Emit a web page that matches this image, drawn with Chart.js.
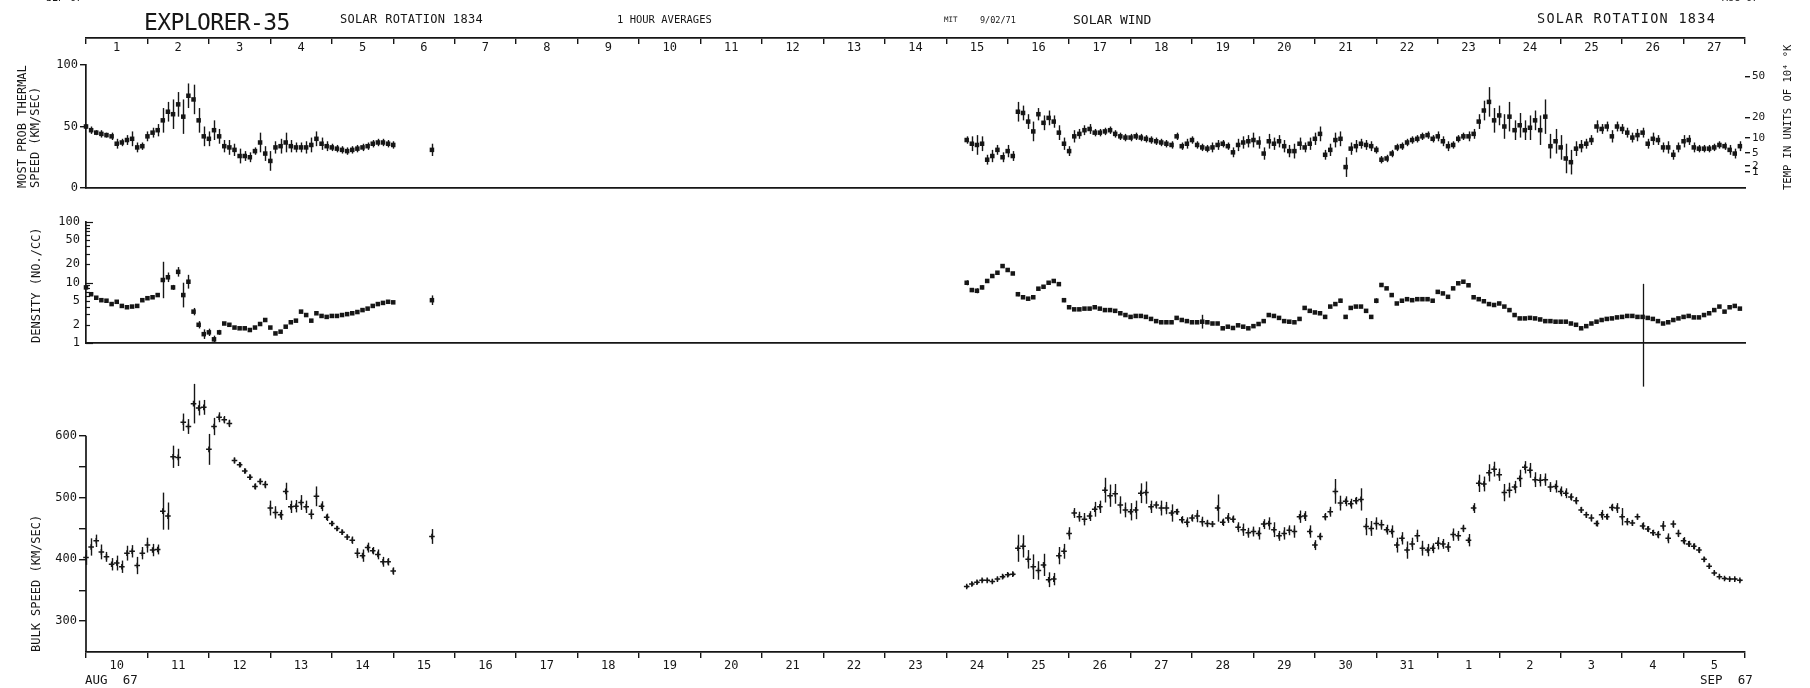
<!DOCTYPE html>
<html>
<head>
<meta charset="utf-8">
<script src="https://cdn.jsdelivr.net/npm/chart.js@4/dist/chart.umd.min.js"></script>
<style>
  html, body { margin: 0; padding: 0; background: #fff; }
  #page { position: relative; width: 1810px; height: 688px; overflow: hidden; background: #fff;
          font-family: 'DejaVu Sans Mono', monospace; color: #161616; }
  #page canvas { position: absolute; left: 0; }
  .t { position: absolute; white-space: pre; line-height: 1; }
</style>
</head>
<body>
<div id="page">
  <canvas id="cRot"   width="1810" height="62"  style="top:0px"></canvas>
  <canvas id="cTherm" width="1810" height="160" style="top:40px"></canvas>
  <canvas id="cDens"  width="1810" height="200" style="top:200px"></canvas>
  <canvas id="cBulk"  width="1810" height="328" style="top:360px"></canvas>

  <div class="t" style="left:46px;top:-7px;font-size:10px">SEP 67</div>
  <div class="t" style="left:1722px;top:-7px;font-size:10px">AUG 67</div>
  <div class="t" style="left:144px;top:11px;font-size:23px;letter-spacing:-0.6px">EXPLORER-35</div>
  <div class="t" style="left:340px;top:12.6px;font-size:12px;letter-spacing:0.3px">SOLAR ROTATION 1834</div>
  <div class="t" style="left:617px;top:13.8px;font-size:10.5px">1 HOUR AVERAGES</div>
  <div class="t" style="left:944px;top:16px;font-size:7.5px">MIT</div>
  <div class="t" style="left:980px;top:16px;font-size:8.5px">9/02/71</div>
  <div class="t" style="left:1073px;top:12.5px;font-size:13px">SOLAR WIND</div>
  <div class="t" style="left:1537px;top:12.4px;font-size:13.5px;letter-spacing:1.3px">SOLAR ROTATION 1834</div>
  <div class="t" style="left:1782px;top:190px;font-size:10.5px;transform:rotate(-90deg);transform-origin:0 0">TEMP IN UNITS OF 10⁴ °K</div>
  <div class="t" style="left:85px;top:674px;font-size:12.5px">AUG  67</div>
  <div class="t" style="left:1700px;top:674px;font-size:12.5px">SEP  67</div>
</div>

<script>
// ---------- axis labels ----------
const rotationDays = ['1','2','3','4','5','6','7','8','9','10','11','12','13','14','15','16','17','18','19','20','21','22','23','24','25','26','27'];
const monthDays = ['10','11','12','13','14','15','16','17','18','19','20','21','22','23','24','25','26','27','28','29','30','31','1','2','3','4','5'];
const thermTicks = [0, 50, 100];
const tempTickLabels = [50, 20, 10, 5, 2, 1];          // units of 10^4 K
const densTickLabels = [100, 50, 20, 10, 5, 2, 1];
const densTickMarks = [1,2,3,4,5,6,7,8,9,10,20,30,40,50,60,70,80,90,100];
const bulkTicks = [300, 350, 400, 450, 500, 550, 600];
const bulkTickLabels = [300, 400, 500, 600];

// ---------- plasma data (days after 10 Aug 1967 00 UT, one value every 2 h) ----------
const stepDays = 1 / 12;
const startA = 0;          // first stretch: 10 Aug - 14 Aug
const startC = 14 + 4 / 12; // second stretch: 24 Aug - 5 Sep

const thermA = [50,47,45,44,43,42,36,37,39,40, 33,34,42,45,47,55,62,60,68,58,
  75,72,55,42,40,47,42,34,33,31, 26,26,25,30,37,28,22,33,34,37,
  34,33,33,33,35,40,36,34,33,32, 31,30,31,32,33,34,36,37,37,36,35];
const thermErrA = [2,3,2,3,2,3,4,3,4,6,4,3,4,4,5, 10,8,12,10,14,10,12,10,8,6,8,6,
  5,6,5,6,4,4,3,8,6,8,5,6,8,5,4,4,5,6, 6,5,4,3,3,3,3,3,3,3,3,3,3,3,3,3];
const densA = [8.3,6.4,5.6,5.1,5.0,4.4,4.8,4.1,3.9,4.0, 4.1,5.1,5.5,5.7,6.2,11,12.2,8.3,15,6.2,
  10.3,3.3,2.0,1.4,1.5,1.15,1.5,2.1,2.0,1.8, 1.75,1.75,1.64,1.8,2.06,2.4,1.8,1.44,1.54,1.86,
  2.2,2.34,3.3,2.9,2.34,3.1,2.8,2.7,2.8,2.8, 2.9,3.0,3.1,3.25,3.5,3.7,4.1,4.4,4.6,4.8,4.7];
const densErrA = [0.06,0.05,0.05,0.05,0.05,0.05,0.06,0.05,0.05,0.05,0.05,0.05,0.05,0.05,0.06,
  1.0,0.2,0.1,0.2,0.6,0.3,0.15,0.15,0.2,0.15,0.15,0.1,
  0.05,0.05,0.05,0.05,0.05,0.05,0.05,0.05,0.05,0.05,
  0.06,0.05,0.05,0.05,0.05,0.05,0.05,0.05,0.05,0.05,
  0.05,0.05,0.05,0.05,0.05,0.05,0.05,0.05,0.05,0.05, 0.05,0.05,0.05,0.05];
const bulkA = [403,420,430,412,404,392,394,388,410,413, 390,410,423,415,416,478,470,566,565,622,
  615,652,645,646,578,615,630,626,620,560, 553,543,533,518,526,521,483,476,472,510,
  485,486,492,485,473,502,486,468,458,450, 444,436,431,410,406,419,414,408,396,396,381];
const bulkErrA = [12,14,10,12,8,10,12,10,12,10,14,10,12,10,8,
  30,22,18,14,14,12,32,12,12,25,14,8,6,6,
  5,4,4,4,5,5,6,
  12,10,8,14,10,10,12,10,8,16,8,6,
  4,4,4,4,6,8,10,8,6,8,8,6,6];

// lone measurement on 15 Aug
const isoDay = [5.63];
const isoTherm = [31];
const isoThermErr = [5];
const isoDens = [5.1];
const isoDensErr = [0.2];
const isoBulk = [437];
const isoBulkErr = [12];

const thermC = [39,36,35,36,23,26,31,25,30,26, 62,61,54,46,60,53,57,54,45,36,
  30,42,44,47,48,45,45,46,47,44, 42,41,41,42,41,40,39,38,37,36,
  35,42,34,36,39,35,33,32,33,35, 36,34,29,35,37,38,39,37,28,38,
  36,38,34,30,30,36,33,36,40,44, 27,31,39,40,17,32,34,36,35,34,
  31,23,24,28,33,34,37,39,40,42, 43,40,42,38,34,35,40,42,42,44,
  54,63,70,55,59,50,58,47,51,47, 49,55,47,58,34,38,33,24,21,32,
  34,36,39,50,48,50,42,50,48,45, 41,43,45,36,40,39,33,33,27,33,
  38,39,33,32,32,32,33,35,34,31,28,34];
const thermErrC = [3,6,8,6,4,5,4,4,5,4,
  8,6,6,8,5,6,6,5,6,5,4,
  5,4,4,4,3,3,3,3,3,3,3,3,3,3,3,3,3,3,3,3,
  3,3,4,3,3,3,3,4,4,3,3,4,5,5,5,6,5,5,6,5,
  5,5,5,6,5,4,5,5,6,4,5,6,6,8,5,5,
  4,4,4,3,3,3,3,3,3,3,3,3,3,3,3,4,4,4,3,3,3,4,4,
  6,8,12,10,8,10,12,8,10,8,10,8,12,14,10,10,10,12,10,
  6,5,4,4,5,4,4,5,4,4,4,4,5,4,4,5,4,4,5,4,4,5,4,4,3,3,3,3,3,3,4,4,4];
const densC = [9.9,7.5,7.3,8.3,10.6,12.8,14.5,18.7,16.1,14.1,
  6.4,5.7,5.4,5.7,7.9,8.5,9.9,10.6,9.4,5.1,
  3.9,3.6,3.6,3.7,3.7,3.9,3.7,3.5,3.5,3.4,
  3.1,2.9,2.7,2.8,2.8,2.7,2.5,2.3,2.2,2.2,
  2.2,2.6,2.4,2.3,2.2,2.2,2.25,2.2,2.1,2.1,
  1.75,1.86,1.77,1.96,1.86,1.75,1.9,2.06,2.3,2.9,
  2.8,2.6,2.3,2.25,2.2,2.5,3.8,3.4,3.2,3.1,
  2.7,4.0,4.4,5.0,2.7,3.8,4.0,4.0,3.4,2.7,
  5.0,9.1,8.0,6.2,4.5,5.0,5.3,5.1,5.3,5.3,
  5.3,5.0,7.0,6.6,5.8,8.0,9.7,10.3,9.0,5.7,
  5.3,4.9,4.4,4.25,4.5,4.0,3.5,2.9,2.55,2.55,
  2.6,2.55,2.45,2.3,2.3,2.25,2.25,2.25,2.1,2.0,
  1.75,1.9,2.1,2.25,2.4,2.5,2.55,2.65,2.7,2.8,
  2.8,2.7,2.7,2.6,2.5,2.3,2.1,2.2,2.4,2.55,
  2.7,2.8,2.65,2.65,2.9,3.1,3.5,4.0,3.3,3.9,4.1,3.7];
const densErrC = [0.1,0.08,0.1,0.08,0.06,0.06,0.06,0.08,0.06,0.06,
  0.08,0.06,0.05,0.05,0.06,0.06,0.05,0.05,0.05,0.08,
  0.05,0.05,0.05,0.05,0.05,0.05,0.05,0.05,0.05,0.05,
  0.05,0.05,0.05,0.05,0.05,0.05,0.05,0.05,0.05,0.05,
  0.05,0.05,0.05,0.05,0.05,0.05,0.3,0.05,0.05,0.05,
  0.05,0.05,0.05,0.05,0.05,0.05,0.05,0.05,0.05,0.05,
  0.05,0.05,0.05,0.05,0.05,0.05,0.06,0.06,0.05,0.05,
  0.08,0.06,0.06,0.08,0.08,0.06,0.05,0.05,0.05,0.05,
  0.1,0.06,0.05,0.05,0.05,0.05,0.05,0.05,0.05,0.05,
  0.05,0.05,0.05,0.05,0.05,0.05,0.05,0.05,0.05,0.05,
  0.06,0.05,0.05,0.05,0.05,0.05,0.05,0.05,0.05,0.05,
  0.05,0.05,0.05,0.05,0.05,0.05,0.05,0.05,0.05,0.05,
  0.06,0.05,0.05,0.05,0.05,0.05,0.05,0.05,0.05,0.05,
  0.05,0.05,0.05,0.05,0.05,0.05,0.05,0.05,0.05,0.05,
  0.05,0.05,0.05,0.05,0.05,0.05,0.05,0.05,0.05,0.05,0.05,0.05];
const bulkC = [356,360,363,366,366,364,368,372,375,376,
  418,421,400,388,382,391,367,368,406,413,
  442,475,469,465,470,481,485,512,503,506,
  488,480,477,480,507,508,485,488,483,483,
  475,477,464,460,467,470,461,458,457,483,
  460,467,465,452,448,443,445,442,457,458,
  448,438,442,447,445,469,470,445,423,437,
  469,477,510,491,494,490,495,497,453,450,
  458,456,448,445,423,434,415,425,438,418,
  415,418,426,425,420,440,438,450,431,483,
  523,522,540,546,537,508,512,517,531,549,
  544,529,528,529,517,518,510,507,501,495,
  480,472,467,458,472,469,484,483,469,461,
  459,469,454,449,443,440,454,434,457,442,
  430,425,421,415,400,389,378,372,369,368,368,366];
const bulkErrC = [2,3,3,3,3,3,3,3,3,3,
  22,18,15,20,15,18,12,10,14,12,10,
  8,8,10,8,12,10,20,18,16,14,
  12,14,15,16,18,10,6,12,10,14,
  5,6,8,6,10,8,6,5,22,6,
  8,6,8,10,8,8,10,8,10,12,
  8,10,8,10,10,8,10,8,6,6,
  8,20,12,8,8,6,
  18,14,12,10,8,8,10,12,10,14,10,10,12,10,8,10,8,8,10,8,6,10,8,
  14,12,14,12,10,14,12,10,14,10,12,12,10,10,8,10,8,8,6,6,5,
  5,6,5,8,5,6,8,14,6,5,5,6,5,5,6,8,8,6,6,6,
  5,5,5,4,4,3,3,2,2,2,2];

// density sample on 4 Sep with a very wide uncertainty bar
const spikeDay = [startC + 132 * stepDays];
const spikeLo = [0.19];
const spikeHi = [9.5];

// ---------- helpers ----------
const ink = '#161616';
Chart.defaults.font.family = "'DejaVu Sans Mono', monospace";
Chart.defaults.font.size = 12;
Chart.defaults.color = ink;

function series(start, vals) { return vals.map((v, i) => ({ x: start + i * stepDays, y: v })); }
function joined(a, iso, c) {
  return [...series(startA, a), ...isoDay.map((d, i) => ({ x: d, y: iso[i] })), ...series(startC, c)];
}

// vertical uncertainty bars, placed with the dataset's own scales
const errorBars = {
  id: 'errorBars',
  beforeDatasetsDraw(chart) {
    const ctx = chart.ctx;
    chart.data.datasets.forEach((ds, di) => {
      if (!ds.errors) return;
      const meta = chart.getDatasetMeta(di);
      const xs = chart.scales[meta.xAxisID], ys = chart.scales[meta.yAxisID];
      ctx.save();
      ctx.strokeStyle = ink;
      ctx.lineWidth = 1.4;
      ds.data.forEach((p, j) => {
        const e = ds.errors[j];
        if (!e) return;
        const lo = ds.relErrors ? p.y / (1 + e) : p.y - e;
        const hi = ds.relErrors ? p.y * (1 + e) : p.y + e;
        const x = Math.round(xs.getPixelForValue(p.x)) + 0.5;
        ctx.beginPath();
        ctx.moveTo(x, ys.getPixelForValue(lo));
        ctx.lineTo(x, ys.getPixelForValue(hi));
        ctx.stroke();
      });
      ctx.restore();
    });
  }
};

function dayAxis(labels, height, pad) {
  return {
    type: 'linear', min: 0, max: 27, position: 'bottom',
    afterBuildTicks: s => {
      const t = [];
      for (let i = 0; i <= 27; i++) { t.push({ value: i }); if (i < 27) t.push({ value: i + 0.5 }); }
      s.ticks = t;
    },
    afterFit: s => { s.height = height; },
    grid: { drawOnChartArea: false, drawTicks: true, tickLength: 6, lineWidth: 1.4,
            color: c => (c.tick && Number.isInteger(c.tick.value)) ? ink : 'rgba(0,0,0,0)' },
    border: { display: true, color: ink, width: 1.7 },
    ticks: { autoSkip: false, maxRotation: 0, minRotation: 0, padding: pad,
             callback: v => Number.isInteger(v) ? '' : labels[Math.floor(v)] }
  };
}
function plainDayAxis(height) {
  return {
    type: 'linear', min: 0, max: 27, position: 'bottom',
    afterFit: s => { s.height = height; },
    grid: { drawOnChartArea: false, drawTicks: false },
    border: { display: true, color: ink, width: 1.7 },
    ticks: { display: false }
  };
}
const baseOptions = {
  responsive: false, animation: false, devicePixelRatio: 1,
  events: [],
  plugins: { legend: { display: false }, tooltip: { enabled: false } }
};
function markStyle(style, radius, width) {
  return { showLine: false, pointStyle: style, pointRadius: radius, pointBorderWidth: width,
           pointBackgroundColor: ink, pointBorderColor: ink, clip: false };
}

// ---------- rotation-day scale along the top ----------
new Chart(document.getElementById('cRot'), {
  type: 'scatter',
  data: { datasets: [] },
  options: Object.assign({}, baseOptions, {
    layout: { padding: { left: 86, right: 65, top: 0, bottom: 0 } },
    scales: { x: dayAxis(rotationDays, 24, -3), y: { display: false } }
  })
});

// ---------- most probable thermal speed ----------
function tempToSpeed(t4) { return Math.sqrt(t4 * 1e4 / 60.573); }   // km/s for proton temperature
new Chart(document.getElementById('cTherm'), {
  type: 'scatter',
  data: { datasets: [Object.assign({
    data: joined(thermA, isoTherm, thermC),
    errors: [...thermErrA, ...isoThermErr, ...thermErrC]
  }, markStyle('rect', 3.2, 0))] },
  options: Object.assign({}, baseOptions, {
    layout: { padding: { left: 0, right: 0, top: 25, bottom: 0 } },
    scales: {
      x: plainDayAxis(12),
      y: {
        min: 0, max: 100, position: 'left',
        afterBuildTicks: s => { s.ticks = thermTicks.map(v => ({ value: v })); },
        afterFit: s => { s.width = 86; },
        grid: { drawOnChartArea: false, tickLength: 6, color: ink, lineWidth: 1.4 },
        border: { display: true, color: ink, width: 1.7 },
        ticks: { padding: 2, autoSkip: false, callback: v => String(v) },
        title: { display: true, text: ['MOST PROB THERMAL', 'SPEED (KM/SEC)'], align: 'start',
                 font: { size: 12, lineHeight: 1.125 }, padding: { top: 16, bottom: 0 }, color: ink }
      },
      yT: {
        min: 0, max: 100, position: 'right',
        afterBuildTicks: s => { s.ticks = tempTickLabels.map(t => ({ value: tempToSpeed(t) })); },
        afterFit: s => { s.width = 65; },
        grid: { drawOnChartArea: false, tickLength: 5, color: ink, lineWidth: 1.4 },
        border: { display: false },
        ticks: { padding: 2, autoSkip: false, font: { size: 11 }, callback: (v, i) => String(tempTickLabels[i]) }
      }
    }
  }),
  plugins: [errorBars]
});

// ---------- density ----------
const densityMarks = {
  id: 'densityMarks',
  afterDatasetsDraw(chart) {
    const ctx = chart.ctx, y = chart.scales.y, x = chart.scales.x;
    const left = chart.chartArea.left;
    ctx.save();
    ctx.strokeStyle = ink;
    ctx.lineWidth = 1.2;
    densTickMarks.forEach(v => {
      const major = v === 1 || v === 10 || v === 100;
      const py = Math.round(y.getPixelForValue(v)) + 0.5;
      ctx.beginPath();
      ctx.moveTo(left, py);
      ctx.lineTo(left + (major ? 7 : 4), py);
      ctx.stroke();
    });
    ctx.lineWidth = 1.3;
    spikeDay.forEach((d, i) => {
      const px = Math.round(x.getPixelForValue(d)) + 0.5;
      ctx.beginPath();
      ctx.moveTo(px, y.getPixelForValue(spikeLo[i]));
      ctx.lineTo(px, y.getPixelForValue(spikeHi[i]));
      ctx.stroke();
    });
    ctx.restore();
  }
};
new Chart(document.getElementById('cDens'), {
  type: 'scatter',
  data: { datasets: [Object.assign({
    data: joined(densA, isoDens, densC),
    errors: [...densErrA, ...isoDensErr, ...densErrC],
    relErrors: true
  }, markStyle('rect', 3.2, 0))] },
  options: Object.assign({}, baseOptions, {
    layout: { padding: { left: 0, right: 65, top: 22, bottom: 0 } },
    scales: {
      x: plainDayAxis(57),
      y: {
        type: 'logarithmic', min: 1, max: 100, position: 'left',
        afterBuildTicks: s => { s.ticks = densTickLabels.map(v => ({ value: v })); },
        afterFit: s => { s.width = 86; },
        grid: { drawOnChartArea: false, drawTicks: false },
        border: { display: true, color: ink, width: 1.7 },
        ticks: { padding: 6, autoSkip: false, callback: v => String(v) },
        title: { display: true, text: 'DENSITY (NO./CC)', align: 'start',
                 font: { size: 12, lineHeight: 1.125 }, padding: { top: 30, bottom: 0 }, color: ink }
      }
    }
  }),
  plugins: [errorBars, densityMarks]
});

// ---------- bulk speed ----------
const bulkAxisLine = {
  id: 'bulkAxisLine',
  afterDraw(chart) {
    const ctx = chart.ctx, y = chart.scales.y, a = chart.chartArea;
    ctx.save();
    ctx.strokeStyle = ink;
    ctx.lineWidth = 1.7;
    ctx.beginPath();
    ctx.moveTo(a.left, y.getPixelForValue(bulkTicks[bulkTicks.length - 1]));
    ctx.lineTo(a.left, a.bottom);
    ctx.stroke();
    ctx.restore();
  }
};
new Chart(document.getElementById('cBulk'), {
  type: 'scatter',
  data: { datasets: [Object.assign({
    data: joined(bulkA, isoBulk, bulkC),
    errors: [...bulkErrA, ...isoBulkErr, ...bulkErrC]
  }, markStyle('cross', 2.8, 1.5))] },
  options: Object.assign({}, baseOptions, {
    layout: { padding: { left: 0, right: 65, top: 14, bottom: 0 } },
    scales: {
      x: dayAxis(monthDays, 36, 1),
      y: {
        min: 250, max: 700, position: 'left',
        afterBuildTicks: s => { s.ticks = bulkTicks.map(v => ({ value: v })); },
        afterFit: s => { s.width = 86; },
        grid: { drawOnChartArea: false, tickLength: 7, color: ink, lineWidth: 1.4 },
        border: { display: false },
        ticks: { padding: 2, autoSkip: false, callback: v => bulkTickLabels.includes(v) ? String(v) : '' },
        title: { display: true, text: 'BULK SPEED (KM/SEC)', align: 'start',
                 font: { size: 12, lineHeight: 1.125 }, padding: { top: 30, bottom: 0 }, color: ink }
      }
    }
  }),
  plugins: [errorBars, bulkAxisLine]
});
</script>
</body>
</html>
